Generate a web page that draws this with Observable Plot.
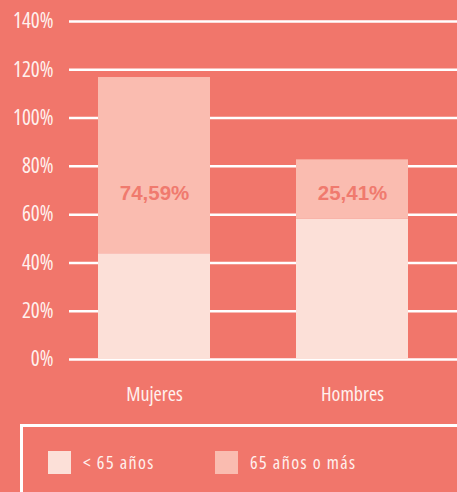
<!DOCTYPE html>
<html>
<head>
<meta charset="utf-8">
<script src="https://cdn.jsdelivr.net/npm/d3@7"></script>
<script src="https://cdn.jsdelivr.net/npm/@observablehq/plot@0.6"></script>
<style>
  html, body { margin: 0; padding: 0; background: #F1766B; overflow: hidden; }
  body { width: 457px; height: 492px; position: relative; font-family: "Open Sans", sans-serif; font-stretch: condensed; }
  #chart { position: absolute; left: 0; top: 0; }
  #chart svg text { font-stretch: condensed; }
  #chart svg text.lbl { font-stretch: normal; }
  #legend { position: absolute; left: 20px; top: 424px; width: 470px; height: 100px; border: 3px solid #ffffff; box-sizing: border-box; }
  .item { position: absolute; top: 23px; display: flex; align-items: center; color: #FFF1EE; font-size: 18px; font-stretch: condensed; letter-spacing: 1.4px; }
  .sw { width: 23px; height: 23px; margin-right: 12px; }
</style>
</head>
<body>
<div id="chart"></div>
<div id="legend"></div>
<script>
const categories = ["Mujeres", "Hombres"];
const groups = ["< 65 años", "65 años o más"];
const under65 = [43.8, 58.2];
const over65 = [73.0, 24.5];
const labels = ["74,59%", "25,41%"];
const labelAt = [68.6, 68.6];
const yTicks = [0, 20, 40, 60, 80, 100, 120, 140];
const colors = ["#FCE0D8", "#FABCB0"];

const rows = [];
categories.forEach((c, i) => {
  rows.push({sexo: c, grupo: groups[0], valor: under65[i]});
  rows.push({sexo: c, grupo: groups[1], valor: over65[i]});
});
const labelRows = categories.map((c, i) => ({sexo: c, y: labelAt[i], text: labels[i]}));

const chart = Plot.plot({
  width: 457,
  height: 420,
  marginLeft: 69,
  marginRight: 0,
  marginTop: 21,
  marginBottom: 61,
  style: {background: "transparent", fontFamily: "'Open Sans', sans-serif", color: "#FFF1EE"},
  x: {domain: categories, paddingInner: 0.432, paddingOuter: 0.191, align: 0.368, label: null},
  y: {domain: [0, 140], label: null},
  color: {domain: groups, range: colors},
  marks: [
    Plot.ruleY(yTicks, {stroke: "#ffffff", strokeWidth: 2.5}),
    Plot.barY(rows, {x: "sexo", y: "valor", fill: "grupo", order: groups}),
    Plot.text(labelRows, {x: "sexo", y: "y", text: "text", fill: "#F07A6E", fontSize: 20.5, fontWeight: "bold", fontFamily: "'Liberation Sans', Arial, sans-serif", className: "lbl"}),
    Plot.axisY(yTicks, {tickSize: 0, tickPadding: 16, fontSize: 21, tickFormat: d => d + "%", fill: "#FFF1EE"}),
    Plot.axisX({tickSize: 0, tickPadding: 27, fontSize: 20, fill: "#FFF1EE"})
  ]
});
document.getElementById("chart").appendChild(chart);

const legend = document.getElementById("legend");
const lefts = [25, 192];
groups.forEach((g, i) => {
  const it = document.createElement("div");
  it.className = "item";
  it.style.left = lefts[i] + "px";
  const sw = document.createElement("span");
  sw.className = "sw";
  sw.style.background = colors[i];
  const t = document.createElement("span");
  t.textContent = g;
  it.appendChild(sw);
  it.appendChild(t);
  legend.appendChild(it);
});
</script>
</body>
</html>
